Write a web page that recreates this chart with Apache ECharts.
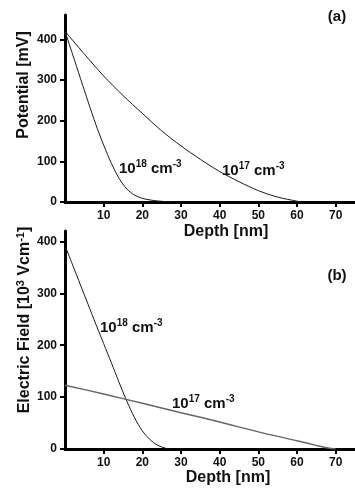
<!DOCTYPE html>
<html>
<head>
<meta charset="utf-8">
<script src="https://cdn.jsdelivr.net/npm/echarts@6/dist/echarts.min.js"></script>
<style>
  html, body { margin: 0; padding: 0; background: #fff; }
  #chart { width: 355px; height: 489px; }
</style>
</head>
<body>
<div id="chart"></div>
<script>
// panel (a): potential vs depth
const depthA17 = [0, 5, 10, 15, 20, 25, 30, 35, 40, 45, 50, 55, 60, 61];
const potential17 = [420, 364, 310, 262, 218, 175, 138, 105, 75, 50, 28, 12, 2, 0];
const depthA18 = [0, 2, 4, 6, 8, 10, 12, 14, 16, 18, 20, 22, 24, 26, 28];
const potential18 = [420, 362, 304, 246, 190, 140, 95, 58, 32, 17, 9, 5, 2.5, 1, 0];

// panel (b): electric field vs depth
const depthB18 = [0, 2, 4, 6, 8, 10, 12, 14, 16, 18, 20, 22, 24, 26, 27];
const field18 = [392, 354, 316, 278, 240, 203, 166, 128, 92, 60, 35, 18, 7, 1.5, 0];
const depthB17 = [0, 10, 20, 30, 40, 50, 60, 65, 68, 70];
const field17 = [123, 106, 88, 70, 52, 33, 16, 7, 2, 0];

const depthTicks = [10, 20, 30, 40, 50, 60, 70];
const valueTicks = [0, 100, 200, 300, 400];

const FONT = "'Liberation Sans', Arial, sans-serif";
const pairs = (xs, ys) => xs.map((x, i) => [x, ys[i]]);

const chart = echarts.init(document.getElementById('chart'));

const xAxisBase = (gridIndex) => ({
  gridIndex: gridIndex,
  type: 'value',
  min: 0,
  max: 75,
  interval: 10,
  splitLine: { show: false },
  axisLine: { lineStyle: { color: '#000', width: 3 } },
  axisTick: { customValues: depthTicks, length: 5, lineStyle: { color: '#000', width: 2 } },
  axisLabel: { customValues: depthTicks, color: '#111', fontWeight: 'bold', fontSize: 12, fontFamily: FONT, margin: 8 }
});

const yAxisBase = (gridIndex, max) => ({
  gridIndex: gridIndex,
  type: 'value',
  min: 0,
  max: max,
  interval: 100,
  splitLine: { show: false },
  axisLine: { show: true, lineStyle: { color: '#000', width: 3 } },
  axisTick: { show: true, customValues: valueTicks, length: 5, lineStyle: { color: '#000', width: 2 } },
  axisLabel: { customValues: valueTicks, color: '#111', fontWeight: 'bold', fontSize: 12, fontFamily: FONT, margin: 8 }
});

const lineSeries = (name, xi, data, color, width) => ({
  name: name,
  type: 'line',
  xAxisIndex: xi,
  yAxisIndex: xi,
  data: data,
  smooth: 0.3,
  symbol: 'none',
  lineStyle: { color: color, width: width }
});

const sup = (base) => ({
  b: { fontSize: base, fontWeight: 'bold', fontFamily: FONT, fill: '#111', lineHeight: base + 2, verticalAlign: 'bottom' },
  s: { fontSize: Math.round(base * 0.68), fontWeight: 'bold', fontFamily: FONT, fill: '#111', lineHeight: base + 2, verticalAlign: 'top' }
});

const label = (x, y, text, size, rotation) => ({
  type: 'text',
  x: x,
  y: y,
  rotation: rotation || 0,
  style: {
    text: text,
    rich: sup(size),
    align: rotation ? 'center' : 'left',
    verticalAlign: 'middle'
  }
});

const plain = (x, y, text, size) => ({
  type: 'text',
  x: x,
  y: y,
  style: {
    text: text,
    font: 'bold ' + size + 'px ' + FONT,
    fill: '#111',
    align: 'center',
    verticalAlign: 'middle'
  }
});

const option = {
  animation: false,
  backgroundColor: '#fff',
  grid: [
    { left: 65, top: 15, width: 291, height: 187 },
    { left: 65, top: 231, width: 291, height: 218 }
  ],
  xAxis: [xAxisBase(0), xAxisBase(1)],
  yAxis: [yAxisBase(0, 460), yAxisBase(1, 420)],
  series: [
    lineSeries('V 1e17', 0, pairs(depthA17, potential17), '#1a1a1a', 1),
    lineSeries('V 1e18', 0, pairs(depthA18, potential18), '#1a1a1a', 1),
    lineSeries('E 1e18', 1, pairs(depthB18, field18), '#1a1a1a', 1),
    lineSeries('E 1e17', 1, pairs(depthB17, field17), '#666', 1.5)
  ],
  graphic: [
    plain(337, 17, '(a)', 15),
    plain(337, 276, '(b)', 15),
    plain(226, 232, 'Depth [nm]', 16),
    plain(228, 478, 'Depth [nm]', 16),
    label(23, 85, '{b|Potential [mV]}', 16, Math.PI / 2),
    label(24, 320, '{b|Electric Field [10}{s|3}{b| Vcm}{s|-1}{b|]}', 16, Math.PI / 2),
    label(119, 168, '{b|10}{s|18}{b| cm}{s|-3}', 15),
    label(222, 170, '{b|10}{s|17}{b| cm}{s|-3}', 15),
    label(100, 327, '{b|10}{s|18}{b| cm}{s|-3}', 15),
    label(172, 403, '{b|10}{s|17}{b| cm}{s|-3}', 15)
  ]
};

chart.setOption(option);
</script>
</body>
</html>
